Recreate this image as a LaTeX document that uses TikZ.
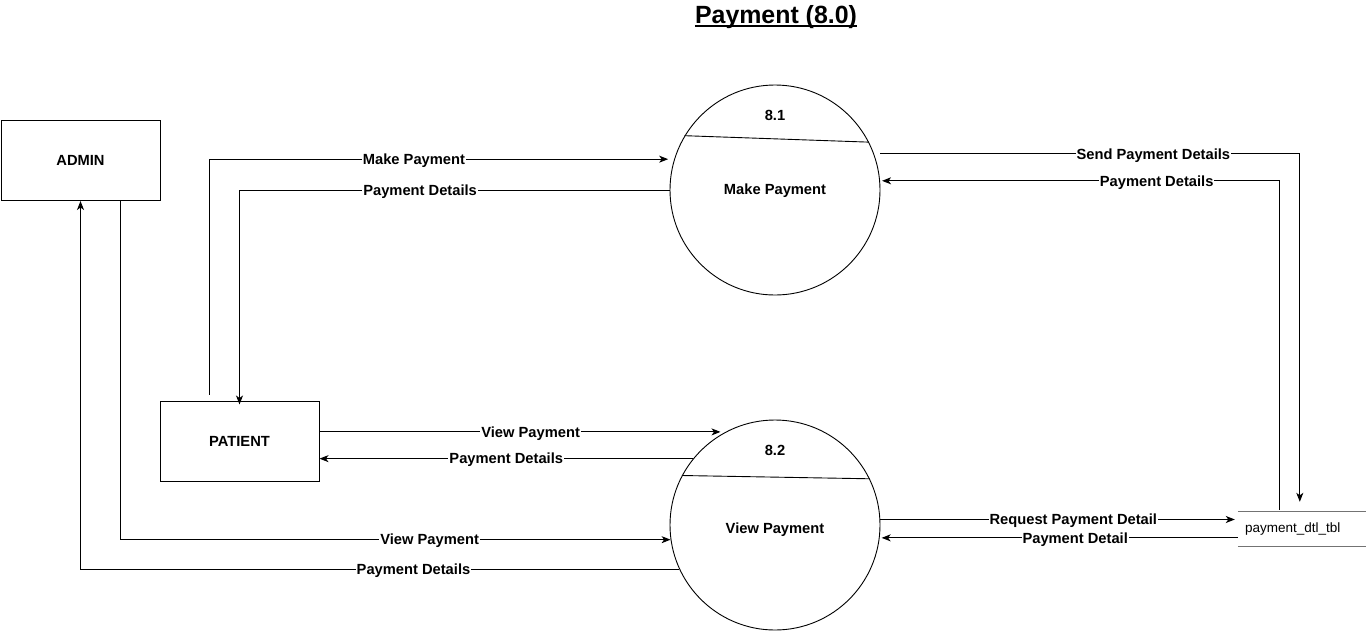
\documentclass[tikz,border=0pt]{standalone}
\usepackage{fontspec}
\setmainfont{Liberation Sans}
\usetikzlibrary{arrows.meta,calc}
\begin{document}
\begin{tikzpicture}[x=1pt,y=-1pt,
  bfont/.style={font=\fontsize{14.7}{17}\selectfont\bfseries},
  ent/.style={draw, line width=1pt, minimum width=159pt, minimum height=80pt, inner sep=0pt, bfont},
  proc/.style={draw, circle, line width=0.9pt, minimum size=210pt, inner sep=0pt, bfont},
  storebox/.style={minimum width=128pt, minimum height=34pt, inner ysep=0pt, inner xsep=7pt, text width=114pt, align=left, font=\fontsize{13.5}{16}\selectfont},
  storeline/.style={draw=black!55, line width=1pt},
  flow/.style={draw, line width=1pt, -{Stealth[length=9pt,width=7pt,inset=2.5pt]}},
  lbl/.style={fill=white, inner sep=1pt, yshift=-1.5pt, bfont},
  divider/.style={draw, line width=0.9pt}]
\useasboundingbox (0,0) rectangle (1366,630);

% title
\node[inner sep=0pt, font=\fontsize{24.9}{28}\selectfont\bfseries] (title) at (776,17) {Payment (8.0)};
\draw[line width=2pt] ([yshift=-2.6pt]title.base west) -- ([yshift=-2.6pt]title.base east);

% entities
\node[ent] (admin) at (80.5,160.5) {ADMIN};
\node[ent] (patient) at (239.5,441) {PATIENT};

% processes
\node[proc] (p1) at (775,190) {};
\node[bfont] (t1) at ($(p1.center)+(0,1)$) {Make Payment};
\node[bfont] (n1) at ($(p1.center)+(0,-75)$) {8.1};
\draw[divider] (p1.149.7) -- (p1.27.8);

\node[proc] (p2) at (775,525) {};
\node[bfont] (t2) at ($(p2.center)+(0,5)$) {View Payment};
\node[bfont] (n2) at ($(p2.center)+(0,-75)$) {8.2};
\draw[divider] (p2.152.2) -- (p2.26.0);

% data store
\node[storebox] (st) at (1302,529) {payment\_dtl\_tbl};
\draw[storeline] (st.north west) -- (st.north east);
\draw[storeline] (st.south west) -- (st.south east);

% flows 8.1
\draw[flow, shorten >=6pt] ($(patient.north west)+(50,-6)$) |- (p1.163.8)
  node[lbl, pos=0.72] {Make Payment};
\draw[flow] (p1.west) -| ($(patient.north west)+(80,4)$)
  node[lbl, pos=0.29] {Payment Details};
\draw[flow, shorten <=6pt, shorten >=10pt] (p1.20.6) -| ($(st.north west)+(62,0)$)
  node[lbl, pos=0.328] {Send Payment Details};
\draw[flow, shorten >=2pt] ($(st.north west)+(42,-2)$) |- (p1.5.5)
  node[lbl, pos=0.654] {Payment Details};

% flows 8.2
\draw[flow, shorten >=5pt] (patient.east |- p2.118.8) -- (p2.118.8)
  node[lbl, pos=0.52] {View Payment};
\draw[flow] (p2.141.8) -- (patient.east |- p2.141.8)
  node[lbl, midway] {Payment Details};
\draw[flow, shorten >=3pt] (p2.3.8) -- (st.west |- p2.3.8)
  node[lbl, pos=0.54] {Request Payment Detail};
\draw[flow, shorten >=2pt] (st.west |- p2.-7.1) -- (p2.-7.1)
  node[lbl, pos=0.454] {Payment Detail};
\draw[flow] ($(admin.south west)+(120,0)$) |- (p2.188.2)
  node[lbl, pos=0.781] {View Payment};
\draw[flow] (p2.205.4) -| ($(admin.south west)+(80,0)$)
  node[lbl, pos=0.222] {Payment Details};
\end{tikzpicture}
\end{document}
